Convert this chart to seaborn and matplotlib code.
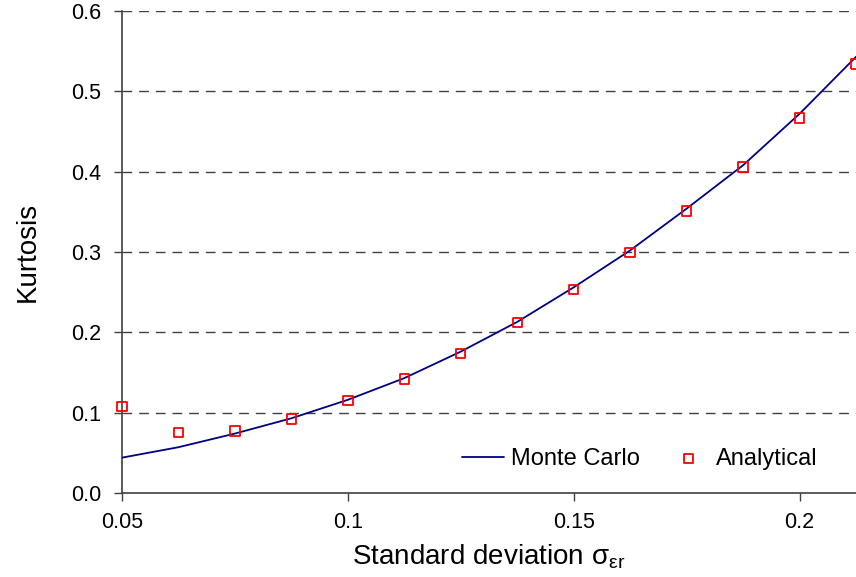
import numpy as np
import pandas as pd
import matplotlib
matplotlib.use("Agg")
import matplotlib.pyplot as plt
import seaborn as sns

# Standard deviation grid and kurtosis estimates
sigma = [0.05, 0.0625, 0.075, 0.0875, 0.1, 0.1125, 0.125, 0.1375,
         0.15, 0.1625, 0.175, 0.1875, 0.2, 0.2125]
monte_carlo = [0.044, 0.057, 0.074, 0.093, 0.116, 0.143, 0.176, 0.213,
               0.256, 0.302, 0.354, 0.408, 0.472, 0.543]
analytical = [0.108, 0.075, 0.077, 0.092, 0.115, 0.142, 0.174, 0.212,
              0.253, 0.299, 0.351, 0.406, 0.467, 0.534]

x_ticks = [0.05, 0.1, 0.15, 0.2]
x_tick_labels = ["0.05", "0.1", "0.15", "0.2"]
y_ticks = [0.0, 0.1, 0.2, 0.3, 0.4, 0.5, 0.6]
y_tick_labels = ["0.0", "0.1", "0.2", "0.3", "0.4", "0.5", "0.6"]

df = pd.DataFrame({"sigma": sigma, "mc": monte_carlo, "an": analytical})

sns.set_theme(style="white")
plt.rcParams["font.family"] = ["Liberation Sans", "DejaVu Sans"]
plt.rcParams["text.color"] = "black"

fig = plt.figure(figsize=(8.56, 5.77), dpi=100)
ax = fig.add_axes([122 / 856, 1 - 493 / 577, 1 - 122 / 856, (493 - 11) / 577])

for yv in y_ticks[1:]:
    ax.axhline(yv, color="#404040", lw=1.0, ls=(0, (7, 5)), zorder=1)

sns.lineplot(data=df, x="sigma", y="mc", ax=ax, color="#000080", lw=1.3,
             label="Monte Carlo", zorder=3)
sns.scatterplot(data=df, x="sigma", y="an", ax=ax, marker="s", s=45,
                facecolor="none", edgecolor="#ff0000", linewidth=1.3,
                label="Analytical", zorder=4, clip_on=False)

ax.set_xlim(0.05, 0.2125)
ax.set_ylim(0, 0.6)
ax.set_xticks(x_ticks)
ax.set_xticklabels(x_tick_labels)
ax.set_yticks(y_ticks)
ax.set_yticklabels(y_tick_labels)
ax.tick_params(axis="both", labelsize=15.5, direction="out", length=6,
               width=1.0, color="#404040", labelcolor="black",
               left=True, bottom=True)
ax.tick_params(axis="x", pad=8)
ax.tick_params(axis="y", pad=9)

for side in ["top", "right"]:
    ax.spines[side].set_visible(False)
for side in ["left", "bottom"]:
    ax.spines[side].set_color("#404040")
    ax.spines[side].set_linewidth(1.2)

ax.set_xlabel("Standard deviation σ$_{\\mathregular{εr}}$", fontsize=20,
              labelpad=6, color="black")
ax.set_ylabel("Kurtosis", fontsize=20, labelpad=22, color="black")

ax.legend(loc="lower right", ncol=2, frameon=False, fontsize=17,
          bbox_to_anchor=(0.977, 0.004), columnspacing=1.2, handlelength=1.75,
          handletextpad=0.3, labelcolor="black")

fig.savefig("out.png", dpi=100)
